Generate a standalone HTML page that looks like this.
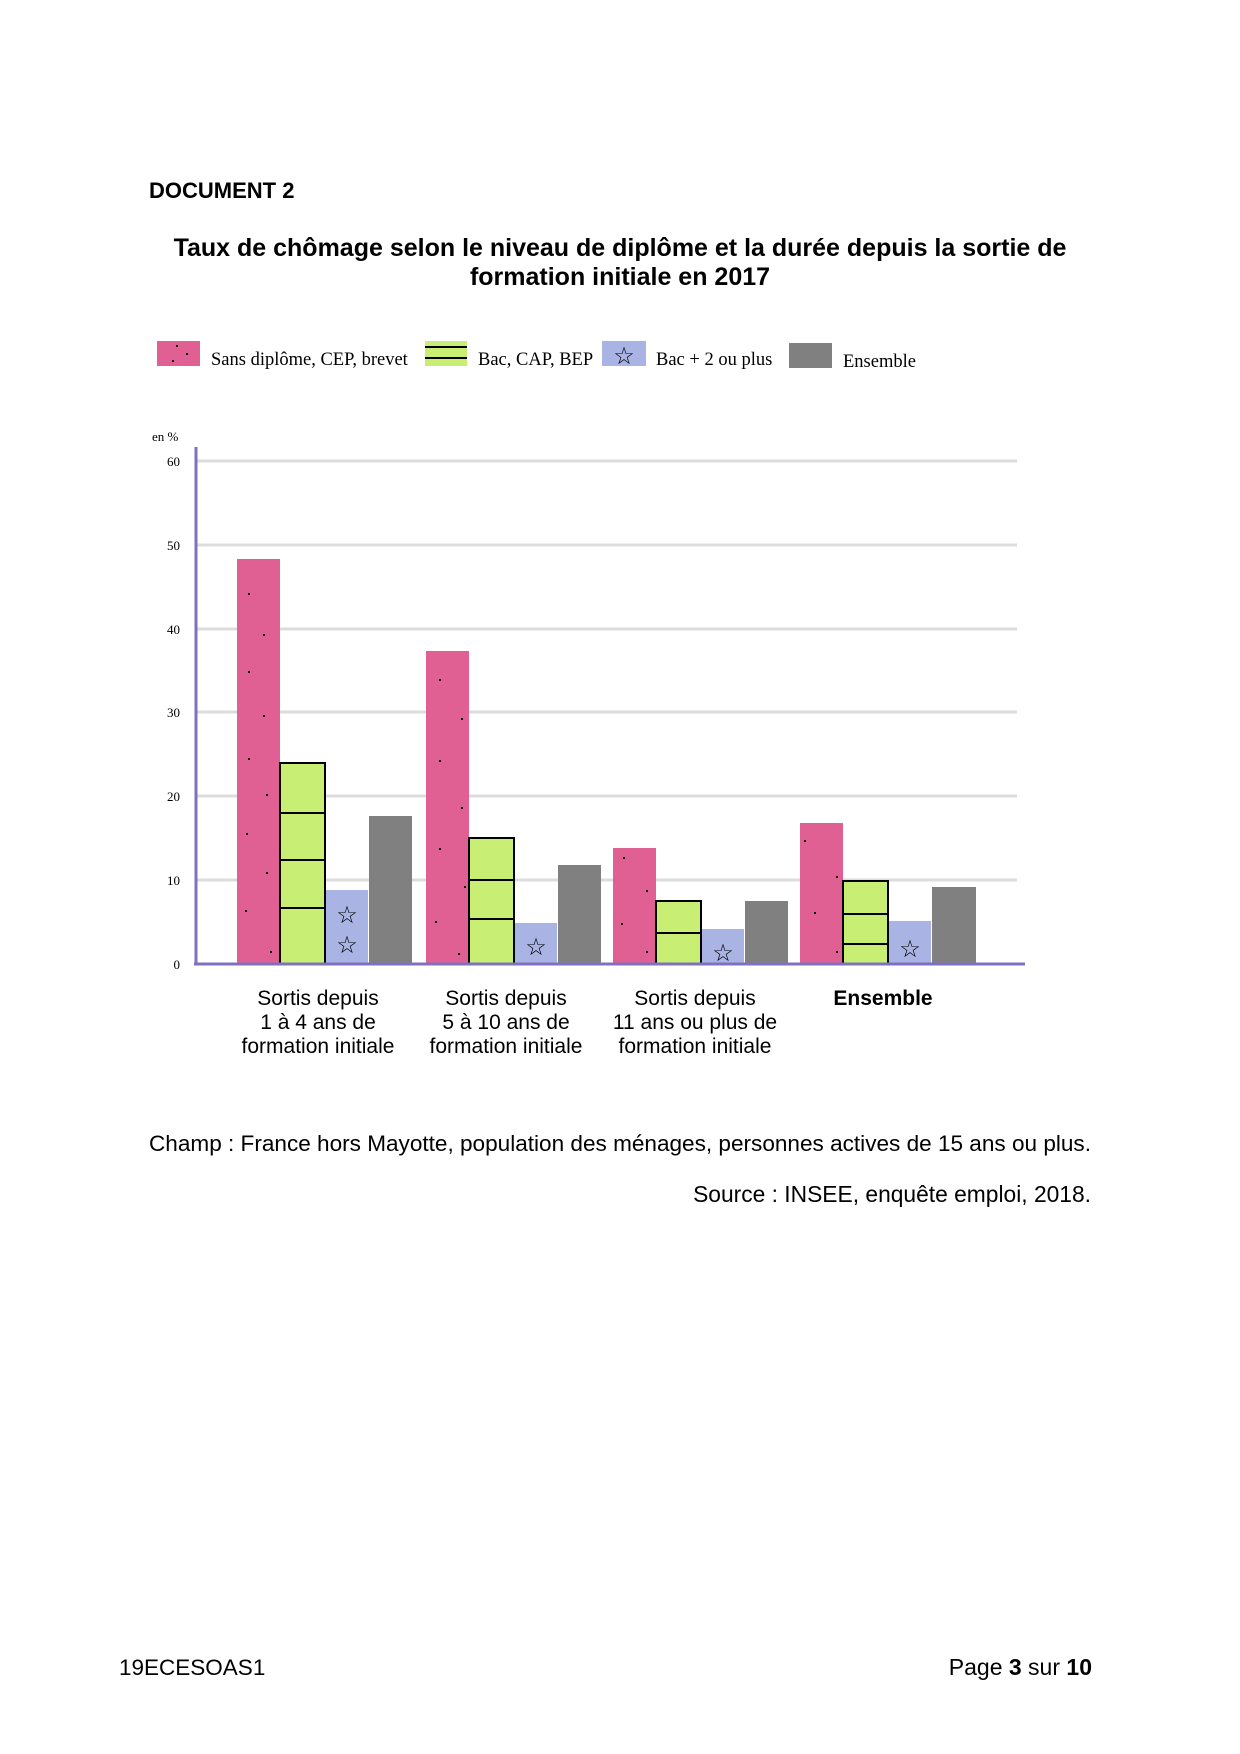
<!DOCTYPE html>
<html><head><meta charset="utf-8"><style>
html,body{margin:0;padding:0;background:#fff}
svg{display:block}
.s{font-family:"Liberation Sans",sans-serif}
.r{font-family:"Liberation Serif",serif}
</style></head><body>
<svg width="1240" height="1754" viewBox="0 0 1240 1754" xmlns="http://www.w3.org/2000/svg">
<text x="149" y="198" class="s" font-size="22" font-weight="bold">DOCUMENT 2</text>
<text x="620" y="256" class="s" font-size="25" font-weight="bold" text-anchor="middle">Taux de chômage selon le niveau de diplôme et la durée depuis la sortie de</text>
<text x="620" y="285" class="s" font-size="25" font-weight="bold" text-anchor="middle">formation initiale en 2017</text>

<!-- legend -->
<rect x="157" y="341" width="43" height="25" fill="#e06094"/>
<rect x="176" y="345" width="2" height="2" fill="#000"/><rect x="186" y="353" width="2" height="2" fill="#000"/><rect x="172" y="360" width="2" height="2" fill="#000"/>
<text x="211" y="365" class="r" font-size="18.5">Sans diplôme, CEP, brevet</text>
<rect x="425" y="341" width="42" height="25" fill="#c8ee74"/>
<line x1="425" y1="347" x2="467" y2="347" stroke="#000" stroke-width="2"/>
<line x1="425" y1="358" x2="467" y2="358" stroke="#000" stroke-width="2"/>
<text x="478" y="365" class="r" font-size="18.5">Bac, CAP, BEP</text>
<rect x="602" y="341" width="44" height="25" fill="#aab4e4"/>
<text x="624" y="364" class="s" font-size="24" text-anchor="middle">☆</text>
<text x="656" y="365" class="r" font-size="18.5">Bac + 2 ou plus</text>
<rect x="789" y="343" width="43" height="25" fill="#808080"/>
<text x="843" y="367" class="r" font-size="18.5">Ensemble</text>

<!-- axes -->
<text x="152" y="441" class="r" font-size="13">en %</text>
<g stroke="#dcdcdc" stroke-width="3">
<line x1="196" y1="461" x2="1017" y2="461"/>
<line x1="196" y1="545" x2="1017" y2="545"/>
<line x1="196" y1="629" x2="1017" y2="629"/>
<line x1="196" y1="712" x2="1017" y2="712"/>
<line x1="196" y1="796" x2="1017" y2="796"/>
<line x1="196" y1="880" x2="1017" y2="880"/>
</g>
<g class="r" font-size="13" text-anchor="end">
<text x="180" y="466">60</text><text x="180" y="550">50</text><text x="180" y="634">40</text>
<text x="180" y="717">30</text><text x="180" y="801">20</text><text x="180" y="885">10</text><text x="180" y="969">0</text>
</g>

<!-- group 1 -->
<rect x="237" y="559" width="43" height="405" fill="#e06094"/>
<rect x="280" y="763" width="45" height="201" fill="#c8ee74" stroke="#000" stroke-width="2"/>
<g stroke="#000" stroke-width="2"><line x1="280" y1="813" x2="325" y2="813"/><line x1="280" y1="860" x2="325" y2="860"/><line x1="280" y1="908" x2="325" y2="908"/></g>
<rect x="326" y="890" width="42" height="74" fill="#aab4e4"/>
<text x="347" y="923" class="s" font-size="24" text-anchor="middle">☆</text>
<text x="347" y="953" class="s" font-size="24" text-anchor="middle">☆</text>
<rect x="369" y="816" width="43" height="148" fill="#808080"/>

<!-- group 2 -->
<rect x="426" y="651" width="43" height="313" fill="#e06094"/>
<rect x="469" y="838" width="45" height="126" fill="#c8ee74" stroke="#000" stroke-width="2"/>
<g stroke="#000" stroke-width="2"><line x1="469" y1="880" x2="514" y2="880"/><line x1="469" y1="919" x2="514" y2="919"/></g>
<rect x="515" y="923" width="42" height="41" fill="#aab4e4"/>
<text x="536" y="955" class="s" font-size="24" text-anchor="middle">☆</text>
<rect x="558" y="865" width="43" height="99" fill="#808080"/>

<!-- group 3 -->
<rect x="613" y="848" width="43" height="116" fill="#e06094"/>
<rect x="656" y="901" width="45" height="63" fill="#c8ee74" stroke="#000" stroke-width="2"/>
<line x1="656" y1="933" x2="701" y2="933" stroke="#000" stroke-width="2"/>
<rect x="702" y="929" width="42" height="35" fill="#aab4e4"/>
<text x="723" y="961" class="s" font-size="24" text-anchor="middle">☆</text>
<rect x="745" y="901" width="43" height="63" fill="#808080"/>

<!-- group 4 -->
<rect x="800" y="823" width="43" height="141" fill="#e06094"/>
<rect x="843" y="881" width="45" height="83" fill="#c8ee74" stroke="#000" stroke-width="2"/>
<g stroke="#000" stroke-width="2"><line x1="843" y1="914" x2="888" y2="914"/><line x1="843" y1="944" x2="888" y2="944"/></g>
<rect x="889" y="921" width="42" height="43" fill="#aab4e4"/>
<text x="910" y="957" class="s" font-size="24" text-anchor="middle">☆</text>
<rect x="932" y="887" width="44" height="77" fill="#808080"/>

<g fill="#000">
<rect x="248" y="593" width="2" height="2"/><rect x="263" y="634" width="2" height="2"/><rect x="248" y="671" width="2" height="2"/><rect x="263" y="715" width="2" height="2"/><rect x="248" y="758" width="2" height="2"/><rect x="266" y="794" width="2" height="2"/><rect x="246" y="833" width="2" height="2"/><rect x="266" y="872" width="2" height="2"/><rect x="245" y="910" width="2" height="2"/><rect x="270" y="951" width="2" height="2"/>
<rect x="439" y="679" width="2" height="2"/><rect x="461" y="718" width="2" height="2"/><rect x="439" y="760" width="2" height="2"/><rect x="461" y="807" width="2" height="2"/><rect x="439" y="848" width="2" height="2"/><rect x="464" y="886" width="2" height="2"/><rect x="435" y="921" width="2" height="2"/><rect x="458" y="953" width="2" height="2"/>
<rect x="623" y="857" width="2" height="2"/><rect x="646" y="890" width="2" height="2"/><rect x="621" y="923" width="2" height="2"/><rect x="646" y="951" width="2" height="2"/>
<rect x="804" y="840" width="2" height="2"/><rect x="836" y="876" width="2" height="2"/><rect x="814" y="912" width="2" height="2"/><rect x="836" y="951" width="2" height="2"/>
</g>

<line x1="196" y1="447" x2="196" y2="965" stroke="#8070c0" stroke-width="3"/>
<line x1="194" y1="964" x2="1025" y2="964" stroke="#8070c0" stroke-width="3"/>

<g class="s" font-size="21" text-anchor="middle">
<text x="318" y="1005">Sortis depuis</text><text x="318" y="1029">1 à 4 ans de</text><text x="318" y="1053">formation initiale</text>
<text x="506" y="1005">Sortis depuis</text><text x="506" y="1029">5 à 10 ans de</text><text x="506" y="1053">formation initiale</text>
<text x="695" y="1005">Sortis depuis</text><text x="695" y="1029">11 ans ou plus de</text><text x="695" y="1053">formation initiale</text>
<text x="883" y="1005" font-weight="bold">Ensemble</text>
</g>

<text x="149" y="1151" class="s" font-size="22.5" textLength="942" lengthAdjust="spacingAndGlyphs">Champ : France hors Mayotte, population des ménages, personnes actives de 15 ans ou plus.</text>
<text x="1091" y="1202" class="s" font-size="22.8" text-anchor="end">Source : INSEE, enquête emploi, 2018.</text>

<text x="119" y="1675" class="s" font-size="22.5">19ECESOAS1</text>
<text x="1092" y="1675" class="s" font-size="23" text-anchor="end">Page <tspan font-weight="bold">3</tspan> sur <tspan font-weight="bold">10</tspan></text>
</svg>
</body></html>
